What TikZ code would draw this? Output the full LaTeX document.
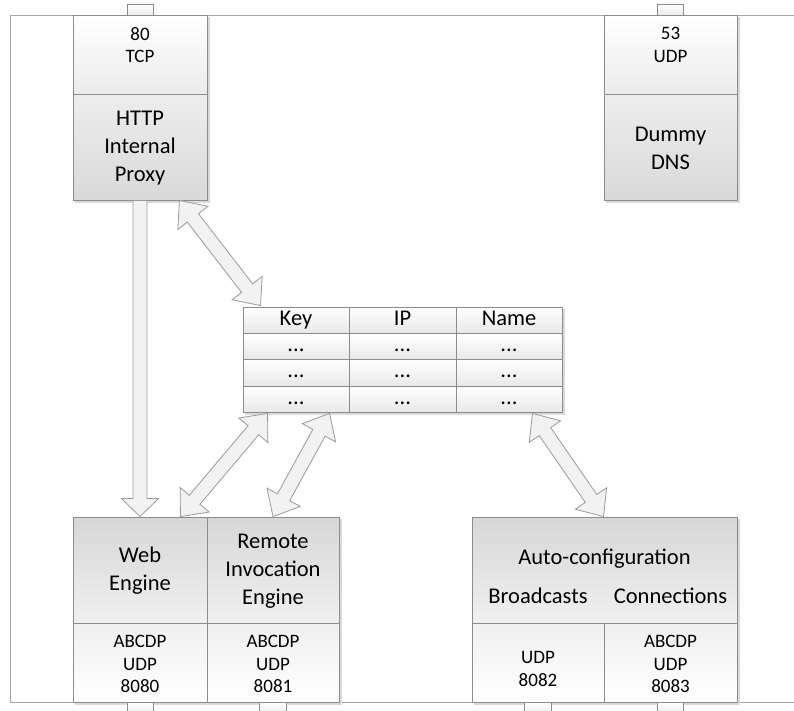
\documentclass[tikz,border=0pt]{standalone}
\usepackage{fontspec}
\setmainfont{Carlito}
\usetikzlibrary{calc,fit}
\definecolor{bordc}{HTML}{8C8C8C}
\definecolor{framec}{HTML}{A6A6A6}
\definecolor{arrfill}{HTML}{F2F2F2}
\definecolor{arrline}{HTML}{9A9A9A}
\tikzset{
 cellbox/.style={draw=bordc, line width=0.9pt, inner sep=0pt, rectangle},
 lightcell/.style={cellbox, top color=white, bottom color=black!8},
 darkcell/.style={cellbox, top color=black!7, bottom color=black!15},
 engtop/.style={cellbox, top color=black!16, bottom color=black!6},
 engbot/.style={cellbox, top color=black!6, bottom color=white},
 tabcell/.style={cellbox, top color=white, bottom color=black!8},
 tblcell/.style={cellbox, top color=white, bottom color=black!9, font=\fontsize{22.5}{28}\selectfont, text height=15pt, text depth=5pt, anchor=center},
 bigtxt/.style={font=\fontsize{22.5}{28}\selectfont, align=center, inner sep=0pt},
 smalltxt/.style={font=\fontsize{19}{22.5}\selectfont, align=center, inner sep=0pt},
 blockarr/.style={draw=arrline, fill=arrfill, line width=0.8pt, line join=miter},
 frameline/.style={draw=framec, line width=0.9pt},
 shadowbox/.style={fill=black!15},
}
\newcommand\dblarr[2]{%
\draw[blockarr] (#1) -- ($(#1)!22pt!(#2)!19pt!90:(#2)$) -- ($(#1)!22pt!(#2)!7pt!90:(#2)$) -- ($(#2)!22pt!(#1)!7pt!-90:(#1)$) -- ($(#2)!22pt!(#1)!19pt!-90:(#1)$) -- (#2) -- ($(#2)!22pt!(#1)!19pt!90:(#1)$) -- ($(#2)!22pt!(#1)!7pt!90:(#1)$) -- ($(#1)!22pt!(#2)!7pt!-90:(#2)$) -- ($(#1)!22pt!(#2)!19pt!-90:(#2)$) -- cycle;}
\newcommand\sglarr[2]{%
\draw[blockarr] ($(#1)!7pt!90:(#2)$) -- ($(#2)!18pt!(#1)!7pt!-90:(#1)$) -- ($(#2)!18pt!(#1)!18.5pt!-90:(#1)$) -- (#2) -- ($(#2)!18pt!(#1)!18.5pt!90:(#1)$) -- ($(#2)!18pt!(#1)!7pt!90:(#1)$) -- ($(#1)!7pt!-90:(#2)$) -- cycle;}
\begin{document}
\begin{tikzpicture}[x=1pt,y=-1pt]
\useasboundingbox[fill=white] (0,0) rectangle (794,710);
% frame
\draw[frameline] (794,15) -- (10,15) -- (10,702) -- (794,702);
% shadows
\fill[shadowbox] (75,17) rectangle (209.5,202.5);
\fill[shadowbox] (606,17) rectangle (739.5,202.5);
\fill[shadowbox] (75,519) rectangle (341.5,704.5);
\fill[shadowbox] (474,519) rectangle (739.5,704.5);
\fill[shadowbox] (245,309) rectangle (564.5,414.5);
% tabs
\node[tabcell, fit={(127,4)(153,15)}] (tabP) {};
\node[tabcell, fit={(657,4)(683,15)}] (tabD) {};
\node[tabcell, fit={(127,702)(153,714)}] (tabW) {};
\node[tabcell, fit={(259,702)(286,714)}] (tabR) {};
\node[tabcell, fit={(524,702)(551,714)}] (tabB) {};
\node[tabcell, fit={(657,702)(683,714)}] (tabC) {};
% HTTP proxy
\node[lightcell, fit={(73,15)(207,94)}] (proxyTop) {};
\node[darkcell, fit={(73,94)(207,200)}] (proxyBot) {};
\node[smalltxt] (proxyPort) at (140,45) {80\\TCP};
\node[bigtxt] (proxyName) at (140,148) {HTTP\\Internal\\Proxy};
% DNS
\node[lightcell, fit={(604,15)(737,94)}] (dnsTop) {};
\node[darkcell, fit={(604,94)(737,200)}] (dnsBot) {};
\node[smalltxt] (dnsPort) at (670.5,45) {53\\UDP};
\node[bigtxt] (dnsName) at (670.5,148) {Dummy\\DNS};
% table
\node[tblcell, minimum width=106pt, minimum height=26pt] (t11) at (296,320) {Key};
\node[tblcell, minimum width=107pt, minimum height=26pt] (t12) at (402.5,320) {IP};
\node[tblcell, minimum width=106pt, minimum height=26pt] (t13) at (509,320) {Name};
\node[tblcell, minimum width=106pt, minimum height=26pt] (t21) at (296,346) {...};
\node[tblcell, minimum width=107pt, minimum height=26pt] (t22) at (402.5,346) {...};
\node[tblcell, minimum width=106pt, minimum height=26pt] (t23) at (509,346) {...};
\node[tblcell, minimum width=106pt, minimum height=27pt] (t31) at (296,372.5) {...};
\node[tblcell, minimum width=107pt, minimum height=27pt] (t32) at (402.5,372.5) {...};
\node[tblcell, minimum width=106pt, minimum height=27pt] (t33) at (509,372.5) {...};
\node[tblcell, minimum width=106pt, minimum height=26pt] (t41) at (296,399) {...};
\node[tblcell, minimum width=107pt, minimum height=26pt] (t42) at (402.5,399) {...};
\node[tblcell, minimum width=106pt, minimum height=26pt] (t43) at (509,399) {...};
% engines
\node[engtop, fit={(73,517)(207,623)}] (webTop) {};
\node[engtop, fit={(207,517)(339,623)}] (remTop) {};
\node[engbot, fit={(73,623)(207,702)}] (webBot) {};
\node[engbot, fit={(207,623)(339,702)}] (remBot) {};
\node[bigtxt] (webName) at (140,571) {Web\\Engine};
\node[bigtxt] (remName) at (273,571) {Remote\\Invocation\\Engine};
\node[smalltxt] (webPort) at (140,664) {ABCDP\\UDP\\8080};
\node[smalltxt] (remPort) at (273,664) {ABCDP\\UDP\\8081};
% auto-configuration
\node[engtop, fit={(472,517)(737,623)}] (autoTop) {};
\node[engbot, fit={(472,623)(604,702)}] (brBot) {};
\node[engbot, fit={(604,623)(737,702)}] (coBot) {};
\node[bigtxt, anchor=base] (autoName) at (604.5,564) {Auto-configuration};
\node[bigtxt, anchor=base] (brName) at (538,603) {Broadcasts};
\node[bigtxt, anchor=base] (coName) at (670.5,603) {Connections};
\node[smalltxt] (brPort) at (538,664) {\mbox{}\\UDP\\8082};
\node[smalltxt] (coPort) at (670.5,664) {ABCDP\\UDP\\8083};
% arrow end points
\coordinate (a1s) at (proxyBot.south);
\coordinate (a1e) at (webTop.north);
\coordinate (a2s) at ($(proxyBot.south east)+(-28,0)$);
\coordinate (a2e) at ($(t11.north west)+(18,-1)$);
\coordinate (a3s) at ($(t41.south west)+(25,1)$);
\coordinate (a3e) at ($(webTop.north east)+(-27,0)$);
\coordinate (a4s) at ($(t41.south west)+(87,1)$);
\coordinate (a4e) at (remTop.north);
\coordinate (a5s) at ($(t43.south east)+(-30,1)$);
\coordinate (a5e) at ($(autoTop.north)+(-1,0)$);
% arrows
\sglarr{a1s}{a1e}
\dblarr{a2s}{a2e}
\dblarr{a3s}{a3e}
\dblarr{a4s}{a4e}
\dblarr{a5s}{a5e}
\end{tikzpicture}
\end{document}
